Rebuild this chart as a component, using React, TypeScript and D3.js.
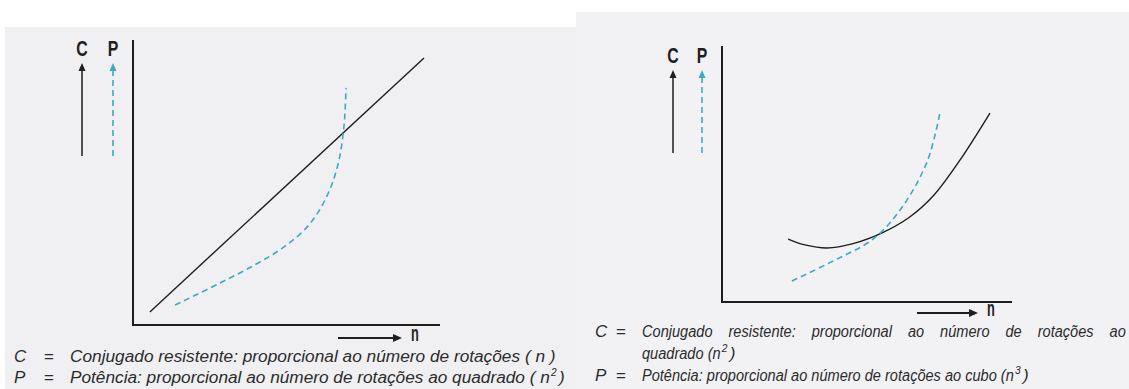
import React, { useLayoutEffect, useRef, useState } from "react";
import * as d3 from "d3";

// Left figure: C proportional to n, P drawn as the dashed curve
const leftTorque: [number, number][] = [
  [0.055, 0.046],
  [0.948, 0.937],
];
const leftPower: [number, number][] = [
  [0.137, 0.07],
  [0.277, 0.144],
  [0.397, 0.211],
  [0.492, 0.274],
  [0.573, 0.351],
  [0.632, 0.453],
  [0.668, 0.565],
  [0.687, 0.695],
  [0.694, 0.832],
];

// Right figure: C proportional to n², P proportional to n³
const rightTorque: [number, number][] = [
  [0.228, 0.246],
  [0.286, 0.223],
  [0.362, 0.211],
  [0.452, 0.228],
  [0.552, 0.27],
  [0.645, 0.33],
  [0.728, 0.414],
  [0.821, 0.555],
  [0.924, 0.738],
];
const rightPower: [number, number][] = [
  [0.241, 0.082],
  [0.383, 0.16],
  [0.521, 0.246],
  [0.614, 0.359],
  [0.707, 0.547],
  [0.752, 0.742],
];

// width: line is squeezed to that width.
// scaleFrom: reuse another line's squeeze; with justify the line is then stretched to `width` by word spacing.
type CaptionLine = {
  sym: string;
  text: string;
  width?: number;
  sup?: string;
  tail?: string;
  scaleFrom?: number;
  justify?: boolean;
};

const leftCaption: CaptionLine[] = [
  { sym: "C", text: "Conjugado resistente: proporcional ao número de rotações ( n )", width: 486 },
  { sym: "P", text: "Potência: proporcional ao número de rotações ao quadrado ( n", width: 480, sup: "2", tail: ")" },
];
const rightCaption: CaptionLine[] = [
  { sym: "C", text: "Conjugado resistente: proporcional ao número de rotações ao", width: 484, scaleFrom: 2, justify: true },
  { sym: "", text: "quadrado  (n", scaleFrom: 2, sup: "2", tail: ")" },
  { sym: "P", text: "Potência: proporcional ao número de rotações ao cubo (n", width: 372, sup: "3", tail: ")" },
];

const TEAL = "#3fa8c2";
const INK = "#1e1e1e";
const FONT = "'Liberation Sans', Arial, sans-serif";

// Bold, horizontally squeezed letter used for C, P and n
function Glyph({
  x,
  y,
  children,
  anchor = "middle",
  size = 22,
  sx = 0.72,
  sy = 1,
}: {
  x: number;
  y: number;
  children: string;
  anchor?: string;
  size?: number;
  sx?: number;
  sy?: number;
}) {
  return (
    <text
      transform={`translate(${x},${y}) scale(${sx},${sy})`}
      textAnchor={anchor}
      fontFamily={FONT}
      fontWeight="bold"
      fontSize={size}
      fill={INK}
    >
      {children}
    </text>
  );
}

type PanelProps = {
  x0: number;
  x1: number;
  y0: number;
  y1: number;
  cx: number;
  px: number;
  labelY: number;
  arrowTop: number;
  arrowBottom: number;
  torque: [number, number][];
  power: [number, number][];
  nArrow: [number, number, number];
};

function Panel(p: PanelProps) {
  const x = d3.scaleLinear().domain([0, 1]).range([p.x0, p.x1]);
  const y = d3.scaleLinear().domain([0, 1]).range([p.y1, p.y0]);
  const line = d3
    .line<[number, number]>()
    .x((d) => x(d[0]))
    .y((d) => y(d[1]))
    .curve(d3.curveCatmullRom.alpha(0.5));
  const [nx0, nx1, ny] = p.nArrow;
  return (
    <g>
      {/* axes */}
      <line x1={p.x0} y1={p.y0} x2={p.x0} y2={p.y1 + 1} stroke={INK} strokeWidth={2} />
      <line x1={p.x0 - 1} y1={p.y1} x2={p.x1} y2={p.y1} stroke={INK} strokeWidth={2} />
      {/* quantity labels and their arrows */}
      <Glyph x={p.cx} y={p.labelY}>C</Glyph>
      <Glyph x={p.px} y={p.labelY}>P</Glyph>
      <line x1={p.cx} y1={p.arrowBottom} x2={p.cx} y2={p.arrowTop + 6} stroke={INK} strokeWidth={1.5} />
      <path d={`M${p.cx},${p.arrowTop} l-3.5,8 h7 z`} fill={INK} />
      <line
        x1={p.px}
        y1={p.arrowBottom}
        x2={p.px}
        y2={p.arrowTop + 8}
        stroke={TEAL}
        strokeWidth={1.6}
        strokeDasharray="6 4"
      />
      <path d={`M${p.px},${p.arrowTop} l-3.5,8 h7 z`} fill={TEAL} />
      {/* n arrow */}
      <line x1={nx0} y1={ny} x2={nx1 - 6} y2={ny} stroke={INK} strokeWidth={2} />
      <path d={`M${nx1},${ny} l-9,-4 v8 z`} fill={INK} />
      <Glyph x={nx1 + 9} y={ny + 3} anchor="start" size={16} sx={0.8} sy={1.35}>
        n
      </Glyph>
      {/* curves */}
      <path d={line(p.torque) ?? ""} fill="none" stroke={INK} strokeWidth={1.4} />
      <path d={line(p.power) ?? ""} fill="none" stroke={TEAL} strokeWidth={1.6} strokeDasharray="6 4" />
    </g>
  );
}

function Caption({
  lines,
  symX,
  eqX,
  textX,
  y0,
  dy,
  size,
}: {
  lines: CaptionLine[];
  symX: number;
  eqX: number;
  textX: number;
  y0: number;
  dy: number;
  size: number;
}) {
  const probes = useRef<(SVGTextElement | null)[]>([]);
  const [natural, setNatural] = useState<number[] | null>(null);
  useLayoutEffect(() => {
    setNatural(probes.current.map((t) => (t ? t.getComputedTextLength() : 1)));
  }, []);

  return (
    <g fontFamily={FONT} fontStyle="italic" fontSize={size} fill="#2b2b2b">
      {/* invisible copies used to read each line's natural width */}
      {lines.map((l, i) => (
        <text
          key={`probe${i}`}
          ref={(el) => {
            probes.current[i] = el;
          }}
          x={0}
          y={-50}
          opacity={0}
        >
          {l.text}
        </text>
      ))}
      {natural &&
        lines.map((l, i) => {
          const yy = y0 + i * dy;
          let sx = 1;
          let ws = 0;
          let w = l.width ?? 0;
          if (l.scaleFrom !== undefined) {
            const ref = lines[l.scaleFrom];
            sx = (ref.width ?? 1) / natural[l.scaleFrom];
            if (l.justify && l.width) {
              const spaces = (l.text.match(/ /g) || []).length;
              ws = (l.width / sx - natural[i]) / spaces;
            } else {
              w = natural[i] * sx;
            }
          } else {
            sx = w / natural[i];
          }
          const end = textX + w;
          return (
            <g key={i}>
              {l.sym && (
                <>
                  <text x={symX} y={yy}>
                    {l.sym}
                  </text>
                  <text x={eqX} y={yy} fontStyle="normal">
                    =
                  </text>
                </>
              )}
              <text transform={`translate(${textX},${yy}) scale(${sx},1)`} style={{ wordSpacing: `${ws}px` }}>
                {l.text}
              </text>
              {l.sup && (
                <text x={end + 1} y={yy - 7} fontSize={size * 0.6}>
                  {l.sup}
                </text>
              )}
              {l.tail && (
                <text x={end + 9} y={yy}>
                  {l.tail}
                </text>
              )}
            </g>
          );
        })}
    </g>
  );
}

export default function App() {
  return (
    <svg
      width={1129}
      height={389}
      style={{ position: "absolute", left: 0, top: 0, display: "block", background: "#ffffff" }}
    >
      <rect x={5} y={27} width={571} height={362} fill="#f0f0f3" />
      <rect x={576} y={12} width={553} height={377} fill="#f2f2f5" />
      <Panel
        x0={133}
        x1={440}
        y0={40}
        y1={325}
        cx={82}
        px={113}
        labelY={56}
        arrowTop={63}
        arrowBottom={156}
        torque={leftTorque}
        power={leftPower}
        nArrow={[338, 402, 338]}
      />
      <Panel
        x0={722}
        x1={1012}
        y0={46}
        y1={302}
        cx={673}
        px={702}
        labelY={63}
        arrowTop={70}
        arrowBottom={153}
        torque={rightTorque}
        power={rightPower}
        nArrow={[917, 978, 313]}
      />
      <Caption lines={leftCaption} symX={14} eqX={44} textX={70} y0={362} dy={21} size={17} />
      <Caption lines={rightCaption} symX={595} eqX={616} textX={642} y0={337} dy={22} size={17} />
    </svg>
  );
}
